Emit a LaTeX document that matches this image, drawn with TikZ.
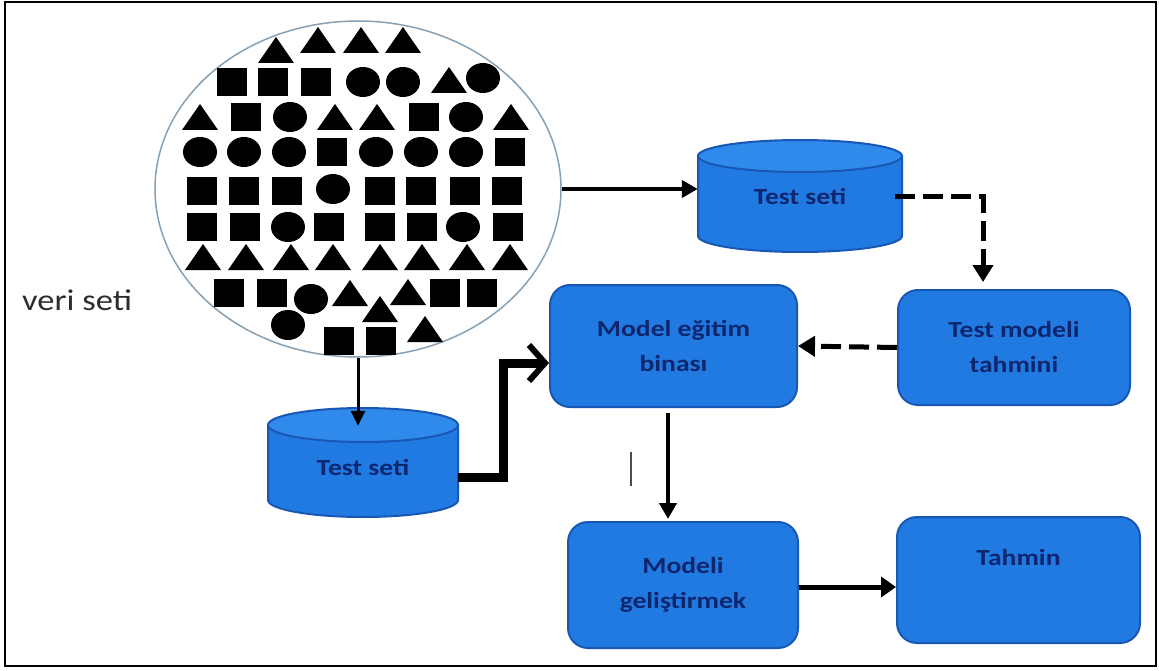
\documentclass[tikz,border=0pt]{standalone}
\usepackage{fontspec}
\setmainfont{Carlito}
\newfontfamily\boxfont[FakeStretch=1.2]{Carlito}
\newfontfamily\verifont[FakeStretch=1.15]{Carlito}
\usetikzlibrary{arrows.meta,shapes.geometric,calc}
\definecolor{bfill}{RGB}{33,122,226}
\definecolor{bcap}{RGB}{48,138,236}
\definecolor{bline}{RGB}{24,88,180}
\definecolor{btext}{RGB}{14,38,110}
\definecolor{ringc}{RGB}{135,160,180}
\definecolor{vtext}{RGB}{45,45,45}
\newcommand\shSq[2]{\fill (#1-15,#2-14) rectangle (#1+15,#2+14);}
\newcommand\shCi[2]{\fill (#1,#2) ellipse[x radius=17,y radius=15];}
\newcommand\shTr[2]{\fill (#1-18,#2+13) -- (#1+18,#2+13) -- (#1,#2-13) -- cycle;}
\begin{document}
\begin{tikzpicture}[x=1pt,y=-1pt,
  box/.style={rounded corners=20pt, fill=bfill, draw=bline, line width=2pt,
    text=btext, font=\boxfont\bfseries\fontsize{23}{35}\selectfont, align=center, inner sep=0pt},
  cyltext/.style={text=btext, font=\boxfont\bfseries\fontsize{23}{35}\selectfont, inner sep=0pt},
  cylbody/.style={fill=bfill, draw=bline, line width=2pt},
  cylcap/.style={fill=bcap, draw=bline, line width=2pt},
  arr/.style={line width=4.5pt, -{Triangle[length=16pt,width=17pt]}},
  darr/.style={line width=5pt, dash pattern=on 20pt off 8pt, -{Triangle[length=17pt,width=20pt]}},
  barr/.style={line width=9pt, -{Straight Barb[length=16pt,width=36pt,line width=6pt]}}
]
\useasboundingbox (0,0) rectangle (1159,671);
\draw[line width=2.5pt] (5,2) rectangle (1156,666);

% data set
\node[ellipse, draw=ringc, line width=1.5pt, fill=white, minimum width=406pt, minimum height=336pt, inner sep=0pt] (ve) at (358,189) {};
\shTr{276}{50}\shTr{318}{40}\shTr{361}{40}\shTr{403}{40}
\shSq{232}{82}\shSq{273}{82}\shSq{316}{82}\shCi{363}{82}\shCi{403}{82}\shTr{449}{80}\shCi{483}{78}
\shTr{200}{117}\shSq{246}{117}\shCi{290}{117}\shTr{335}{117}\shTr{377}{117}\shSq{424}{117}\shCi{466}{117}\shTr{511}{117}
\shCi{200}{152}\shCi{244}{152}\shCi{289}{152}\shSq{332}{152}\shCi{376}{152}\shCi{421}{152}\shCi{466}{152}\shSq{510}{152}
\shSq{202}{191}\shSq{244}{191}\shSq{287}{191}\shCi{333}{189}\shSq{380}{191}\shSq{421}{191}\shSq{465}{191}\shSq{507}{191}
\shSq{202}{227}\shSq{245}{227}\shCi{288}{227}\shSq{329}{227}\shSq{380}{227}\shSq{422}{227}\shCi{463}{227}\shSq{508}{227}
\shTr{203}{257}\shTr{246}{257}\shTr{291}{257}\shTr{333}{257}\shTr{380}{257}\shTr{422}{257}\shTr{467}{257}\shTr{510}{257}
\shSq{229}{293}\shSq{272}{293}\shCi{311}{299}\shTr{350}{293}\shTr{408}{292}\shSq{445}{293}\shSq{482}{293}
\shTr{380}{309}\shCi{288}{325}\shSq{339}{341}\shSq{381}{341}\shTr{425}{329}

\node[text=vtext, font=\verifont\fontsize{30}{36}\selectfont, anchor=base west, inner sep=0pt] (vs) at (22,310) {veri seti};

% cylinder 1
\path[cylbody] (698,156) -- (698,236) arc[start angle=180,end angle=0,x radius=102,y radius=16] -- (902,156) -- cycle;
\path[cylcap] (800,156) ellipse[x radius=102,y radius=16];
\node[cyltext, minimum width=204pt, minimum height=112pt] (c1) at (800,196) {Test seti};

% cylinder 2
\path[cylbody] (268,425) -- (268,500) arc[start angle=180,end angle=0,x radius=95,y radius=17] -- (458,425) -- cycle;
\path[cylcap] (363,425) ellipse[x radius=95,y radius=17];
\node[cyltext, minimum width=190pt, minimum height=112pt] (c2) at (363,467) {Test seti};

% boxes
\node[box, minimum width=247pt, minimum height=122pt] (m1) at (673.5,346) {Model eğitim\\binası};
\node[box, minimum width=232pt, minimum height=115pt] (tm) at (1014,347.5) {Test modeli\\tahmini};
\node[box, minimum width=230pt, minimum height=126pt] (mg) at (683,585) {Modeli\\geliştirmek};
\node[box, minimum width=243pt, minimum height=126pt] (th) at (1018.5,580) {Tahmin\\\strut};

% connectors
\draw[arr] (ve.east) -- (c1.west |- ve.east);
\draw[line width=3pt, -{Triangle[length=15pt,width=14pt]}] (ve.south) -- ($(ve.south |- c2.north)+(0,15)$);
\draw[darr] ($(c1.east)+(-7,1)$) -| ($(tm.north)+(-31,-7)$);
\draw[darr] (tm.west) -- (m1.east);
\draw[barr] ($(c2.east)+(0,10)$) -- ++(45,0) |- ($(m1.west)+(0,17)$);
\draw[arr] ($(m1.south)+(-5.5,5)$) -- ($(m1.south |- mg.north)+(-5.5,-2)$);
\draw[line width=5pt, -{Triangle[length=15pt,width=20pt]}] (mg.east |- 0,587) -- (th.west |- 0,587);

% stray mark
\coordinate (s1) at (631,452);
\coordinate (s2) at (631,486);
\draw[line width=1.2pt, black!70] (s1) -- (s2);
\end{tikzpicture}
\end{document}
